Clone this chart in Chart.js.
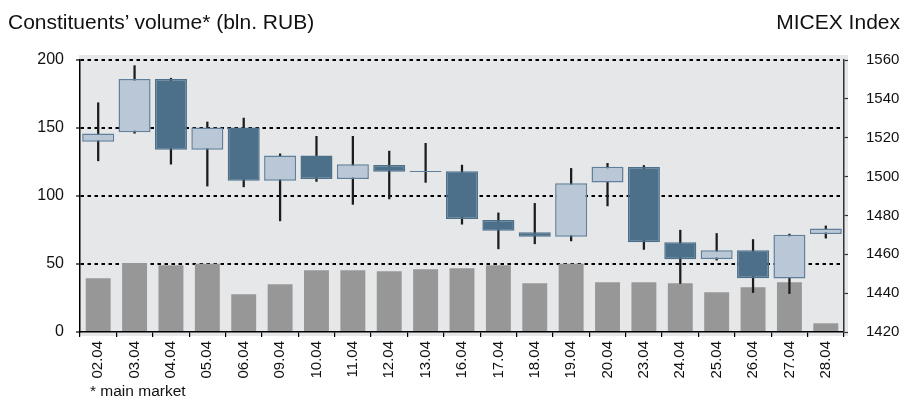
<!DOCTYPE html>
<html>
<head>
<meta charset="utf-8">
<script src="https://cdn.jsdelivr.net/npm/chart.js@4/dist/chart.umd.min.js"></script>
<style>
  html, body { margin: 0; padding: 0; background: #ffffff; }
  #wrap { position: relative; width: 902px; height: 401px; overflow: hidden; }
  canvas { position: absolute; left: 0; top: 0; }
  .txt { position: absolute; font-family: "Liberation Sans", Arial, sans-serif; color: #111; line-height: 1; white-space: nowrap; }
  #titleL { left: 8px; top: 11px; font-size: 21px; }
  #titleR { right: 2px; top: 11px; font-size: 21px; }
  #foot { left: 90px; top: 383px; font-size: 15.5px; }
</style>
</head>
<body>
<div id="wrap">
  <canvas id="c" width="902" height="401"></canvas>
  <div class="txt" id="titleL">Constituents’ volume* (bln. RUB)</div>
  <div class="txt" id="titleR">MICEX Index</div>
  <div class="txt" id="foot">* main market</div>
</div>
<script>
// ---- data ----
const categories = ['02.04','03.04','04.04','05.04','06.04','09.04','10.04','11.04','12.04','13.04','16.04','17.04','18.04','19.04','20.04','23.04','24.04','25.04','26.04','27.04','28.04'];
const volume = [39.5, 50.8, 49.1, 50.1, 27.8, 35.1, 45.4, 45.4, 44.7, 46.2, 46.9, 49.1, 35.9, 50.1, 36.6, 36.6, 35.9, 29.2, 32.9, 36.6, 6.4];
const openIdx  = [1517.9, 1522.8, 1550.2, 1513.8, 1525.3, 1497.8, 1510.9, 1498.8, 1505.9, 1502.3, 1502.8, 1477.6, 1471.4, 1469.0, 1497.0, 1504.9, 1466.2, 1457.6, 1462.1, 1447.5, 1470.4];
const closeIdx = [1522.2, 1550.2, 1513.8, 1525.3, 1497.8, 1510.9, 1498.8, 1506.3, 1502.5, 1502.9, 1478.2, 1472.1, 1469.0, 1496.6, 1505.0, 1466.2, 1457.5, 1462.1, 1447.7, 1470.0, 1473.3];
const highIdx  = [1538.0, 1557.1, 1550.6, 1528.1, 1530.1, 1511.7, 1520.7, 1520.7, 1513.1, 1517.1, 1505.9, 1481.3, 1486.2, 1504.2, 1506.8, 1505.7, 1472.4, 1470.7, 1467.6, 1470.4, 1474.6];
const lowIdx   = [1508.1, 1522.3, 1506.4, 1495.1, 1494.7, 1477.2, 1497.5, 1485.7, 1488.5, 1497.0, 1475.5, 1462.8, 1465.4, 1466.9, 1484.9, 1462.5, 1445.0, 1457.0, 1440.3, 1439.8, 1468.3];
const volumeTicks = { min: 0, max: 200, step: 50 };
const indexTicks = { min: 1420, max: 1560, step: 20 };

// ---- styles ----
const UP_FILL = '#b9c7d6', UP_BORDER = '#5f7f9a';
const DOWN_FILL = '#4c6f8a', DOWN_BORDER = '#4c6f8a';
const BAR_COLOR = '#979797';
const PLOT_BG = '#e6e7e9';

const isUp = categories.map((_, i) => closeIdx[i] >= openIdx[i]);

Chart.defaults.font.family = '"Liberation Sans", Arial, sans-serif';
Chart.defaults.color = '#111';

const bgPlugin = {
  id: 'plotBg',
  beforeDraw(chart) {
    const { ctx, chartArea: a } = chart;
    ctx.save();
    ctx.fillStyle = '#ffffff';
    ctx.fillRect(0, 0, chart.width, chart.height);
    ctx.fillStyle = PLOT_BG;
    ctx.fillRect(a.left - 1, a.top - 5, a.right - a.left + 5, a.bottom - a.top + 9);
    ctx.restore();
  }
};

new Chart(document.getElementById('c'), {
  type: 'bar',
  data: {
    labels: categories,
    datasets: [
      {
        label: 'Body',
        data: categories.map((_, i) => [openIdx[i], closeIdx[i]]),
        yAxisID: 'y1',
        grouped: false,
        order: 0,
        barPercentage: 0.88,
        categoryPercentage: 1,
        backgroundColor: isUp.map(u => u ? UP_FILL : DOWN_FILL),
        borderColor: isUp.map(u => u ? UP_BORDER : DOWN_BORDER),
        borderWidth: 1.5,
        borderSkipped: false
      },
      {
        label: 'Wick',
        data: categories.map((_, i) => [lowIdx[i], highIdx[i]]),
        yAxisID: 'y1',
        grouped: false,
        order: 1,
        barThickness: 1.6,
        backgroundColor: '#1c1c1c',
        borderWidth: 0
      },
      {
        label: 'Volume',
        data: volume,
        yAxisID: 'y',
        grouped: false,
        order: 2,
        barPercentage: 0.685,
        categoryPercentage: 1,
        backgroundColor: BAR_COLOR,
        borderWidth: 0
      }
    ]
  },
  options: {
    responsive: false,
    animation: false,
    events: [],
    layout: { padding: { top: 60, left: 0, right: 0, bottom: 0 } },
    plugins: { legend: { display: false }, tooltip: { enabled: false }, title: { display: false } },
    scales: {
      x: {
        type: 'category',
        offset: true,
        grid: { offset: true, drawOnChartArea: false, drawTicks: true, tickLength: 5, color: '#000', lineWidth: 1.2 },
        border: { display: true, color: '#000', width: 1.5 },
        ticks: { minRotation: 90, maxRotation: 90, autoSkip: false, font: { size: 15 }, color: '#111', padding: 4 },
        afterFit(s) { s.height = 69; }
      },
      y: {
        position: 'left',
        min: volumeTicks.min, max: volumeTicks.max,
        ticks: { stepSize: volumeTicks.step, font: { size: 16 }, color: '#111', padding: 12,
                 callback: v => String(v) },
        grid: {
          color: c => (c.tick && c.tick.value === 0) ? 'rgba(0,0,0,0)' : '#000',
          lineWidth: 2,
          tickLength: 4,
          tickColor: '#000',
          tickWidth: 1.2,
          tickBorderDash: []
        },
        border: { display: true, color: '#000', width: 1.5, dash: [3.5, 3.5] },
        afterFit(s) { s.width = 80; }
      },
      y1: {
        position: 'right',
        min: indexTicks.min, max: indexTicks.max,
        ticks: { stepSize: indexTicks.step, font: { size: 15 }, color: '#111', padding: 18,
                 callback: v => String(v) },
        grid: { drawOnChartArea: false, tickLength: 4, color: '#333', tickWidth: 1.2 },
        border: { display: true, color: '#333', width: 1.5 },
        afterFit(s) { s.width = 58; }
      }
    }
  },
  plugins: [bgPlugin]
});
</script>
</body>
</html>
